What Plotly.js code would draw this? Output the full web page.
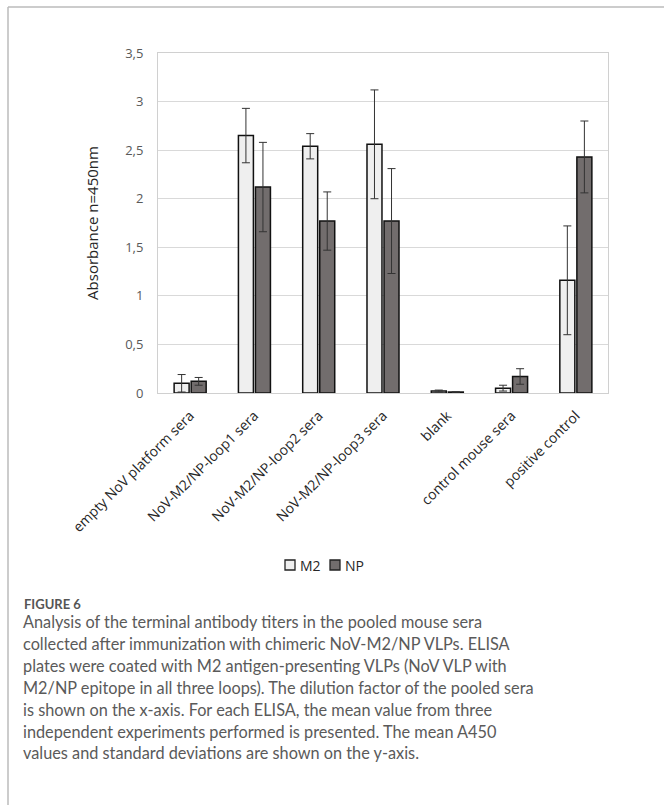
<!DOCTYPE html>
<html>
<head>
<meta charset="utf-8">
<script src="https://cdn.plot.ly/plotly-3.0.1.min.js"></script>
<style>html,body{margin:0;padding:0;background:#fff;}#chart{width:664px;height:805px;}</style>
</head>
<body>
<div id="chart"></div>
<script>
var categories = ["empty NoV platform sera", "NoV-M2/NP-loop1 sera", "NoV-M2/NP-loop2 sera", "NoV-M2/NP-loop3 sera", "blank", "control mouse sera", "positive control"];
var m2Values = [0.10, 2.65, 2.54, 2.56, 0.02, 0.05, 1.16];
var m2Errors = [0.09, 0.28, 0.13, 0.56, 0.01, 0.03, 0.56];
var npValues = [0.12, 2.12, 1.77, 1.77, 0.01, 0.17, 2.43];
var npErrors = [0.04, 0.46, 0.30, 0.54, 0.00, 0.08, 0.37];
var seriesNames = ["M2", "NP"];
var seriesColors = ["#efefef", "#726d6d"];
var yTicks = [0, 0.5, 1, 1.5, 2, 2.5, 3, 3.5];
var yTickLabels = ["0", "0,5", "1", "1,5", "2", "2,5", "3", "3,5"];
var captionLines = [
  "Analysis of the terminal antibody titers in the pooled mouse sera",
  "collected after immunization with chimeric NoV-M2/NP VLPs. ELISA",
  "plates were coated with M2 antigen-presenting VLPs (NoV VLP with",
  "M2/NP epitope in all three loops). The dilution factor of the pooled sera",
  "is shown on the x-axis. For each ELISA, the mean value from three",
  "independent experiments performed is presented. The mean A450",
  "values and standard deviations are shown on the y-axis."
];

var L = 158, R = 608, T = 53, B = 393;
function px(x){ return (x - L) / (R - L); }
function py(y){ return (B - y) / (B - T); }

var traces = [
  {type: "bar", name: seriesNames[0], x: categories, y: m2Values,
   marker: {color: seriesColors[0], line: {color: "#111", width: 1.5}},
   error_y: {type: "data", array: m2Errors, visible: true, color: "#333", thickness: 1, width: 4}},
  {type: "bar", name: seriesNames[1], x: categories, y: npValues,
   marker: {color: seriesColors[1], line: {color: "#111", width: 1.5}},
   error_y: {type: "data", array: npErrors, visible: true, color: "#333", thickness: 1, width: 4}}
];

var annotations = [{
  xref: "paper", yref: "paper", x: px(22), y: py(604), xanchor: "left", yanchor: "middle",
  text: "<b>FIGURE 6</b>", showarrow: false, font: {family: "Lato", size: 13, color: "#555"}
}];
captionLines.forEach(function(line, i){
  annotations.push({
    xref: "paper", yref: "paper", x: px(21), y: py(621 + 22 * i), xanchor: "left", yanchor: "middle",
    text: line, showarrow: false, align: "left", font: {family: "Lato", size: 16.3, color: "#5a5a5a"}
  });
});

// custom compact legend
var legendX = [290, 335];
var shapes = [
  {type: "line", xref: "paper", yref: "paper", x0: px(8), x1: px(664), y0: py(7), y1: py(7), line: {color: "#bbb", width: 1.5}},
  {type: "line", xref: "paper", yref: "paper", x0: px(8), x1: px(8), y0: py(7), y1: py(805), line: {color: "#bbb", width: 1.5}}
];
seriesNames.forEach(function(name, i){
  shapes.push({type: "rect", xref: "paper", yref: "paper",
    x0: px(legendX[i] - 5), x1: px(legendX[i] + 5), y0: py(560), y1: py(570),
    fillcolor: seriesColors[i], line: {color: "#222", width: 1.3}});
  annotations.push({xref: "paper", yref: "paper", x: px(legendX[i] + 8), y: py(565),
    xanchor: "left", yanchor: "middle", text: name, showarrow: false,
    font: {family: "Open Sans", size: 14, color: "#262626"}});
});

var layout = {
  width: 664, height: 805,
  margin: {l: L, r: 664 - R, t: T, b: 805 - B},
  paper_bgcolor: "#fff", plot_bgcolor: "#fff",
  barmode: "group", bargap: 0.47, bargroupgap: 0.12,
  showlegend: false,
  font: {family: "Open Sans", color: "#404040"},
  xaxis: {type: "category", tickangle: -45, showline: true, mirror: true, linecolor: "#d0d0d0", linewidth: 1,
          ticks: "outside", ticklen: 8, tickcolor: "rgba(0,0,0,0)", tickfont: {family: "Open Sans", size: 14, color: "#262626"}, showgrid: false},
  yaxis: {range: [0, 3.5], tickvals: yTicks, ticktext: yTickLabels, showline: true, mirror: true,
          linecolor: "#d0d0d0", linewidth: 1, gridcolor: "#d9d9d9", gridwidth: 1, zeroline: false,
          ticks: "outside", ticklen: 11, tickcolor: "rgba(0,0,0,0)",
          tickfont: {family: "Open Sans", size: 13, color: "#595959"},
          title: {text: "Absorbance n=450nm", standoff: 22, font: {family: "Open Sans", size: 15, color: "#262626"}}},
  annotations: annotations,
  shapes: shapes
};

Plotly.newPlot("chart", traces, layout, {displayModeBar: false, staticPlot: true});
</script>
</body>
</html>
